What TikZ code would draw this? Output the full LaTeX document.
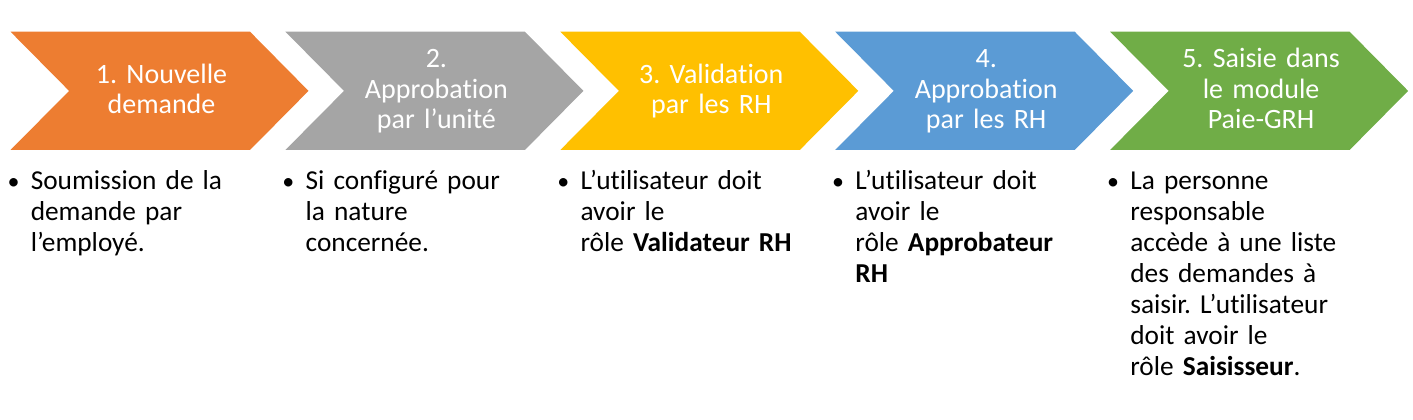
\documentclass[tikz,border=0pt]{standalone}
\usepackage{fontspec}
\setmainfont[Ligatures=NoCommon]{Carlito}
\definecolor{corange}{HTML}{ED7D31}
\definecolor{cgray}{HTML}{A5A5A5}
\definecolor{cyellow}{HTML}{FFC000}
\definecolor{cblue}{HTML}{5B9BD5}
\definecolor{cgreen}{HTML}{70AD47}
\begin{document}
\frenchspacing
\begin{tikzpicture}[x=0.75pt,y=-0.75pt,
  chevtext/.style={anchor=base,text=white,font=\fontsize{21}{23}\selectfont\frenchspacing,align=center,text width=200pt,inner sep=0pt},
  bullettext/.style={anchor=base west,font=\fontsize{20.5}{23.2}\selectfont\frenchspacing,align=left,inner sep=0pt,text width=230pt},
  bulletmark/.style={anchor=base,font=\fontsize{18}{23}\selectfont,inner sep=0pt}]
\useasboundingbox (0,0) rectangle (1413,420);
\foreach \i/\c in {0/corange,1/cgray,2/cyellow,3/cblue,4/cgreen}{
  \pgfmathsetmacro{\L}{10.5+274.9*\i}
  \fill[\c] (\L,31.7) -- (\L+239.5,31.7) -- (\L+298,90.9) -- (\L+239.5,150) -- (\L,150) -- (\L+58.6,90.9) -- cycle;
  \node[bulletmark] (m\i) at (\L+3,189.5) {•};
}
\node[chevtext] (c0) at (161.5,83.3) {1. Nouvelle\\demande};
\node[chevtext] (c1) at (436.4,67.5) {2.\\Approbation\\par l’unité};
\node[chevtext] (c2) at (711.3,83.3) {3. Validation\\par les RH};
\node[chevtext] (c3) at (986.2,67.5) {4.\\Approbation\\par les RH};
\node[chevtext] (c4) at (1261.1,67.5) {5. Saisie dans\\le module\\Paie-GRH};
\node[bullettext] (t0) at (30.5,189.5) {Soumission de la\\demande par\\l’employé.};
\node[bullettext] (t1) at (305.4,189.5) {Si configuré pour\\la nature\\concernée.};
\node[bullettext] (t2) at (580.3,189.5) {L’utilisateur doit\\avoir le\\rôle \textbf{Validateur RH}};
\node[bullettext] (t3) at (855.2,189.5) {L’utilisateur doit\\avoir le\\rôle \textbf{Approbateur}\\\textbf{RH}};
\node[bullettext] (t4) at (1130.1,189.5) {La personne\\responsable\\accède à une liste\\des demandes à\\saisir. L’utilisateur\\doit avoir le\\rôle \textbf{Saisisseur}.};
\end{tikzpicture}
\end{document}
